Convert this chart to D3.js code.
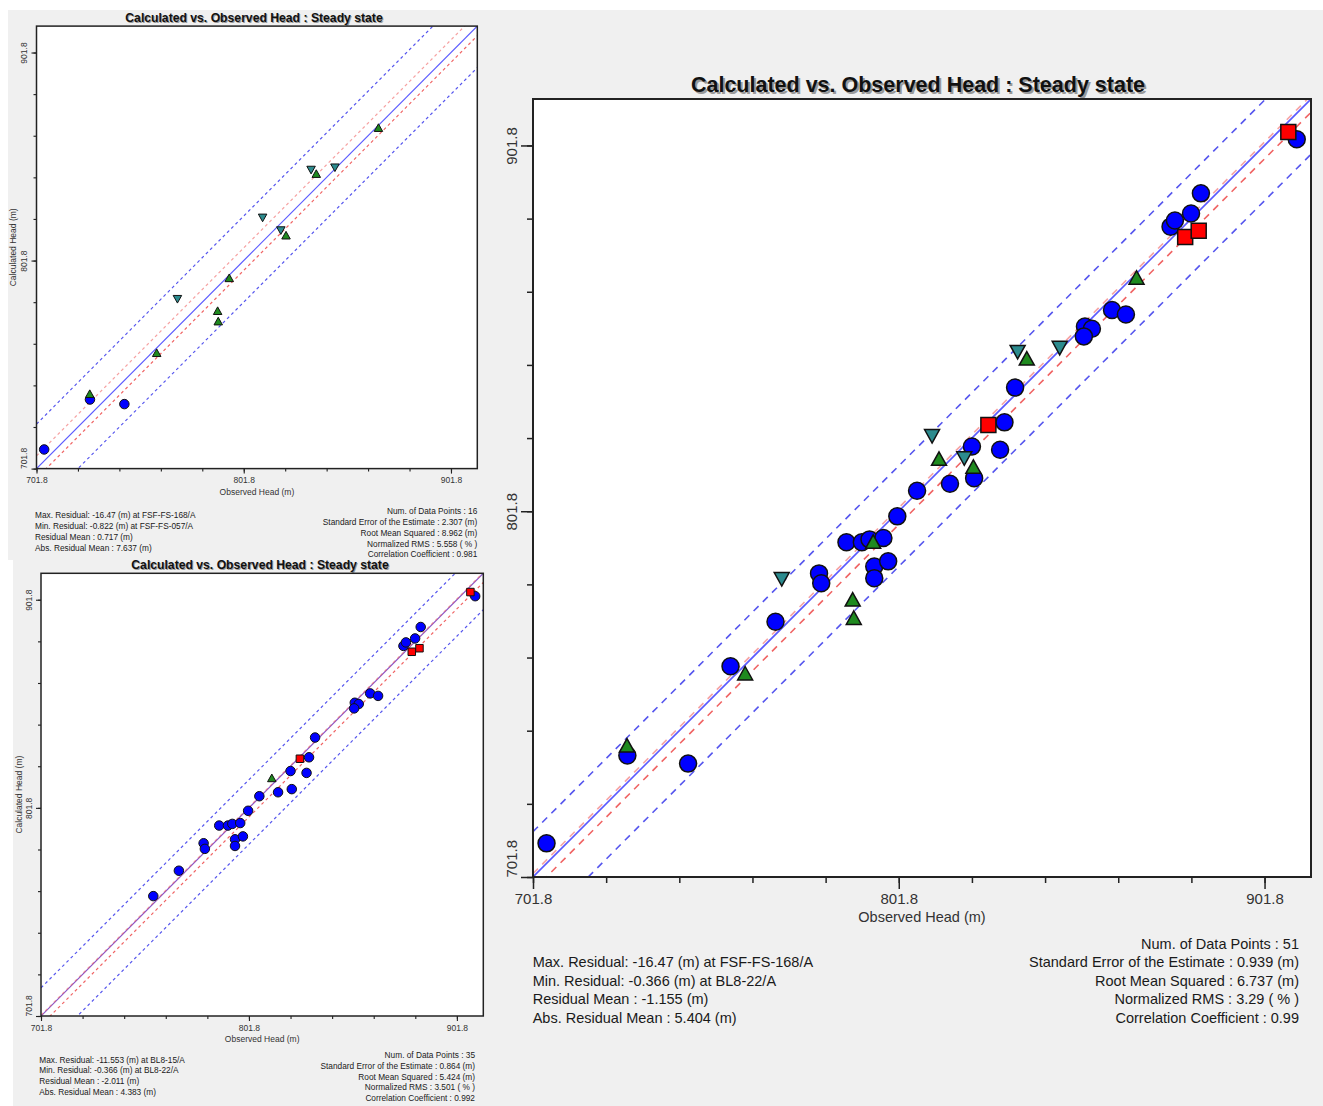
<!DOCTYPE html>
<html>
<head>
<meta charset="utf-8">
<script src="https://cdn.jsdelivr.net/npm/d3@7"></script>
<style>
  html, body { margin: 0; padding: 0; background: #fff; }
  svg { display: block; font-family: "Liberation Sans", Arial, sans-serif; }
</style>
</head>
<body>
<script>
// ---------- data (observed, calculated) ----------
const AXIS_MIN = 701.8, AXIS_MAX = 914.5;
const TICKS = [701.8, 721.8, 741.8, 761.8, 781.8, 801.8, 821.8, 841.8, 861.8, 881.8, 901.8];
const MAJOR_TICKS = [701.8, 801.8, 901.8];

// FSF wells (top-left chart, 16 points)
const CIRCLES_FSF = [[705.5, 711.0], [727.6, 735.0], [744.2, 732.8]];
const TRI_UP_FSF = [[727.5, 737.6], [759.8, 757.3], [789.2, 777.5], [789.5, 772.5],
                    [794.8, 793.3], [822.2, 813.8], [836.8, 843.4], [866.8, 865.5]];
const TRI_DOWN_FSF = [[769.8, 783.4], [810.9, 822.5], [819.7, 816.4], [834.3, 845.5], [845.8, 846.6]];

// BL8 wells (bottom-left chart)
const CIRCLES_BL8 = [[755.8, 759.4], [768.1, 771.6], [780.0, 784.8], [780.6, 782.1], [787.5, 793.3],
                     [791.7, 793.3], [793.8, 794.1], [797.6, 794.5], [795.1, 786.7], [795.1, 783.5],
                     [798.9, 788.1], [801.4, 800.4], [806.8, 807.4], [815.8, 809.3], [822.4, 810.8],
                     [821.8, 819.5], [829.5, 818.6], [830.7, 826.1], [833.6, 835.6], [852.7, 852.3],
                     [854.6, 851.7], [852.4, 849.6], [860.1, 856.8], [863.9, 855.6], [876.1, 879.6],
                     [877.3, 881.3], [881.7, 883.2], [884.4, 888.7], [910.6, 903.5]];
const SQUARES_BL8 = [[826.3, 825.4], [880.1, 876.8], [883.8, 878.5], [908.3, 905.5]];
const TRI_UP_BL8 = [[812.8, 816.0]];

// interval lines: [residual centre, 95% confidence half width, 95% interval half width]
const BAND_FSF = [0.7, 5.4, 20.7];
const BAND_BL8 = [-2.0, 2.4, 15.5];
const BAND_ALL = [-1.35, 2.3, 13.75];

const TITLE = "Calculated vs. Observed Head : Steady state";

const STATS_FSF_LEFT = ["Max. Residual: -16.47 (m) at FSF-FS-168/A", "Min. Residual: -0.822 (m) at FSF-FS-057/A",
                        "Residual Mean : 0.717 (m)", "Abs. Residual Mean : 7.637 (m)"];
const STATS_FSF_RIGHT = ["Num. of Data Points : 16", "Standard Error of the Estimate : 2.307 (m)",
                         "Root Mean Squared : 8.962 (m)", "Normalized RMS : 5.558 ( % )",
                         "Correlation Coefficient : 0.981"];
const STATS_BL8_LEFT = ["Max. Residual: -11.553 (m) at BL8-15/A", "Min. Residual: -0.366 (m) at BL8-22/A",
                        "Residual Mean : -2.011 (m)", "Abs. Residual Mean : 4.383 (m)"];
const STATS_BL8_RIGHT = ["Num. of Data Points : 35", "Standard Error of the Estimate : 0.864 (m)",
                         "Root Mean Squared : 5.424 (m)", "Normalized RMS : 3.501 ( % )",
                         "Correlation Coefficient : 0.992"];
const STATS_ALL_LEFT = ["Max. Residual: -16.47 (m) at FSF-FS-168/A", "Min. Residual: -0.366 (m) at BL8-22/A",
                        "Residual Mean : -1.155 (m)", "Abs. Residual Mean : 5.404 (m)"];
const STATS_ALL_RIGHT = ["Num. of Data Points : 51", "Standard Error of the Estimate : 0.939 (m)",
                         "Root Mean Squared : 6.737 (m)", "Normalized RMS : 3.29 ( % )",
                         "Correlation Coefficient : 0.99"];

// ---------- styles ----------
const COL = {
  circle: "#0000ff", up: "#1f8a1f", down: "#2c8b8e", square: "#ff0000",
  blueDash: "#5656ee", redDash: "#f06464", blueSolid: "#5a5aff", text: "#1a1a1a"
};

const svg = d3.select("body").append("svg").attr("width", 1323).attr("height", 1106);
svg.append("rect").attr("width", 1323).attr("height", 1106).attr("fill", "#fff");
svg.append("rect").attr("x", 8).attr("y", 10).attr("width", 1315).attr("height", 1096).attr("fill", "#f0f0f0");
svg.append("rect").attr("x", 8).attr("y", 560).attr("width", 5).attr("height", 546).attr("fill", "#fff");
const defs = svg.append("defs");

function markerPath(shape, s) {
  const h = s / 2;
  if (shape === "circle") return `M${-h},0A${h},${h} 0 1,0 ${h},0A${h},${h} 0 1,0 ${-h},0Z`;
  if (shape === "square") return `M${-h},${-h}H${h}V${h}H${-h}Z`;
  if (shape === "up") return `M0,${-h}L${h},${h * 0.8}L${-h},${h * 0.8}Z`;
  return `M0,${h}L${h},${-h * 0.8}L${-h},${-h * 0.8}Z`;
}

function panel(cfg) {
  const x = d3.scaleLinear().domain([AXIS_MIN, AXIS_MAX]).range([cfg.x0, cfg.x1]);
  const y = d3.scaleLinear().domain([AXIS_MIN, AXIS_MAX]).range([cfg.y1, cfg.y0]);
  const g = svg.append("g");
  const cx = (cfg.x0 + cfg.x1) / 2;

  // title with soft shadow
  [[cfg.shadow, "#9a9a9a"], [0, "#111"]].forEach(([o, c]) => {
    g.append("text").attr("x", cfg.titleX + o).attr("y", cfg.titleY + o)
      .attr("text-anchor", "middle").attr("font-weight", "bold")
      .attr("font-size", cfg.titleSize).attr("fill", c).text(TITLE);
  });

  g.append("rect").attr("x", cfg.x0).attr("y", cfg.y0)
    .attr("width", cfg.x1 - cfg.x0).attr("height", cfg.y1 - cfg.y0).attr("fill", "#fff");

  const clipId = "clip-" + cfg.id;
  defs.append("clipPath").attr("id", clipId).append("rect")
    .attr("x", cfg.x0).attr("y", cfg.y0).attr("width", cfg.x1 - cfg.x0).attr("height", cfg.y1 - cfg.y0);

  // 1:1 line and interval lines
  const [mean, conf, pred] = cfg.band;
  const lines = [
    { c: mean - pred, color: COL.blueDash, dash: cfg.dash, w: cfg.lw },
    { c: mean + pred, color: COL.blueDash, dash: cfg.dash, w: cfg.lw },
    { c: mean - conf, color: COL.redDash, dash: cfg.dash, w: cfg.lw },
    { c: 0, color: cfg.solidColor, dash: null, w: cfg.lw },
    { c: mean + conf, color: COL.redDash, dash: cfg.dash, w: cfg.lw, op: 0.6 }
  ];
  const lg = g.append("g").attr("clip-path", `url(#${clipId})`);
  lg.selectAll("line").data(lines).join("line")
    .attr("x1", x(AXIS_MIN)).attr("x2", x(AXIS_MAX))
    .attr("y1", d => y(AXIS_MIN + d.c)).attr("y2", d => y(AXIS_MAX + d.c))
    .attr("stroke", d => d.color).attr("stroke-width", d => d.w)
    .attr("stroke-opacity", d => d.op || 1)
    .attr("stroke-dasharray", d => d.dash);

  // markers
  const mg = g.append("g").attr("clip-path", `url(#${clipId})`);
  cfg.series.forEach(s => {
    mg.append("g").selectAll("path").data(s.pts).join("path")
      .attr("transform", d => `translate(${x(d[0])},${y(d[1])})`)
      .attr("d", markerPath(s.shape, cfg.size[s.shape]))
      .attr("fill", COL[s.shape]).attr("stroke", "#111").attr("stroke-width", cfg.mstroke);
  });

  // frame
  g.append("rect").attr("x", cfg.x0).attr("y", cfg.y0)
    .attr("width", cfg.x1 - cfg.x0).attr("height", cfg.y1 - cfg.y0)
    .attr("fill", "none").attr("stroke", "#222").attr("stroke-width", cfg.frameW);

  // axes
  const styleAxis = sel => {
    sel.select(".domain").remove();
    sel.selectAll("line").attr("stroke", "#222").attr("stroke-width", cfg.frameW * 0.75);
    sel.selectAll("text").attr("fill", "#333").attr("font-size", cfg.tickSize).attr("font-family", null);
  };
  g.append("g").attr("transform", `translate(0,${cfg.y1})`)
    .call(d3.axisBottom(x).tickValues(TICKS).tickSize(cfg.minor).tickFormat(""))
    .call(styleAxis);
  g.append("g").attr("transform", `translate(0,${cfg.y1})`)
    .call(d3.axisBottom(x).tickValues(MAJOR_TICKS).tickSize(cfg.major).tickFormat(d3.format(".1f")))
    .call(styleAxis)
    .selectAll("text").attr("y", cfg.xLabelY).attr("dy", null);
  g.append("g").attr("transform", `translate(${cfg.x0},0)`)
    .call(d3.axisLeft(y).tickValues(TICKS).tickSize(cfg.minor).tickFormat(""))
    .call(styleAxis);
  g.append("g").attr("transform", `translate(${cfg.x0},0)`)
    .call(d3.axisLeft(y).tickValues(MAJOR_TICKS).tickSize(cfg.major).tickFormat(d3.format(".1f")))
    .call(styleAxis)
    .selectAll("text")
    .attr("transform", "rotate(-90)").attr("x", 0).attr("y", -cfg.yLabelX).attr("dy", null)
    .attr("text-anchor", d => d === AXIS_MIN ? "start" : "middle");

  // axis titles
  g.append("text").attr("x", cx).attr("y", cfg.y1 + cfg.xTitleY)
    .attr("text-anchor", "middle").attr("font-size", cfg.axisSize).attr("fill", "#333")
    .text("Observed Head (m)");
  if (cfg.yTitle) {
    g.append("text")
      .attr("transform", `translate(${cfg.x0 - cfg.yTitleX},${(cfg.y0 + cfg.y1) / 2}) rotate(-90)`)
      .attr("text-anchor", "middle").attr("font-size", cfg.axisSize).attr("fill", "#333")
      .text("Calculated Head (m)");
  }

  // statistics
  g.append("g").selectAll("text").data(cfg.left).join("text")
    .attr("x", cfg.leftX).attr("y", (d, i) => cfg.leftY + i * cfg.gap)
    .attr("font-size", cfg.statSize).attr("fill", COL.text).text(d => d);
  g.append("g").selectAll("text").data(cfg.right).join("text")
    .attr("x", cfg.rightX).attr("y", (d, i) => cfg.rightY + i * cfg.gap)
    .attr("text-anchor", "end").attr("font-size", cfg.statSize).attr("fill", COL.text).text(d => d);
}

const SMALL = {
  titleSize: 12.2, shadow: 1, tickSize: 8.5, axisSize: 8.5, statSize: 8.3,
  minor: 3, major: 5, frameW: 1.5, lw: 1.2, dash: "3,3", mstroke: 1,
  size: { circle: 9.5, up: 8.5, down: 8.5, square: 7.5 }, yTitle: true
};

panel(Object.assign({}, SMALL, {
  id: "fsf", x0: 36.5, x1: 477.3, y0: 26.1, y1: 468.6,
  titleX: 254, titleY: 22, xLabelY: 14.5, xTitleY: 26.5, yLabelX: 10, yTitleX: 20.5,
  band: BAND_FSF, solidColor: COL.blueSolid,
  series: [
    { pts: CIRCLES_FSF, shape: "circle" },
    { pts: TRI_UP_FSF, shape: "up" },
    { pts: TRI_DOWN_FSF, shape: "down" }
  ],
  left: STATS_FSF_LEFT, right: STATS_FSF_RIGHT,
  leftX: 35, leftY: 518.4, rightX: 477.3, rightY: 514.4, gap: 10.7
}));

panel(Object.assign({}, SMALL, {
  id: "bl8", x0: 41, x1: 483.3, y0: 573.3, y1: 1016,
  titleX: 260, titleY: 569, xLabelY: 14.5, xTitleY: 26, yLabelX: 9, yTitleX: 19,
  band: BAND_BL8, solidColor: "#8a55c8",
  series: [
    { pts: CIRCLES_BL8, shape: "circle" },
    { pts: TRI_UP_BL8, shape: "up" },
    { pts: SQUARES_BL8, shape: "square" }
  ],
  left: STATS_BL8_LEFT, right: STATS_BL8_RIGHT,
  leftX: 39.3, leftY: 1062.6, rightX: 475, rightY: 1058, gap: 10.8
}));

panel({
  id: "all", x0: 533, x1: 1311, y0: 99, y1: 877,
  titleX: 918, titleY: 92, titleSize: 21.5, shadow: 2,
  tickSize: 15, axisSize: 14.5, statSize: 14.5,
  minor: 6, major: 12, frameW: 2, lw: 1.6, dash: "7,6", mstroke: 1.5,
  xLabelY: 27, xTitleY: 45, yLabelX: 16, yTitle: false,
  size: { circle: 17, up: 15, down: 15, square: 15 },
  band: BAND_ALL, solidColor: COL.blueSolid,
  series: [
    { pts: CIRCLES_FSF.concat(CIRCLES_BL8), shape: "circle" },
    { pts: TRI_UP_FSF.concat(TRI_UP_BL8), shape: "up" },
    { pts: TRI_DOWN_FSF, shape: "down" },
    { pts: SQUARES_BL8, shape: "square" }
  ],
  left: STATS_ALL_LEFT, right: STATS_ALL_RIGHT,
  leftX: 532.7, leftY: 967.3, rightX: 1299, rightY: 948.5, gap: 18.5
});
</script>
</body>
</html>
